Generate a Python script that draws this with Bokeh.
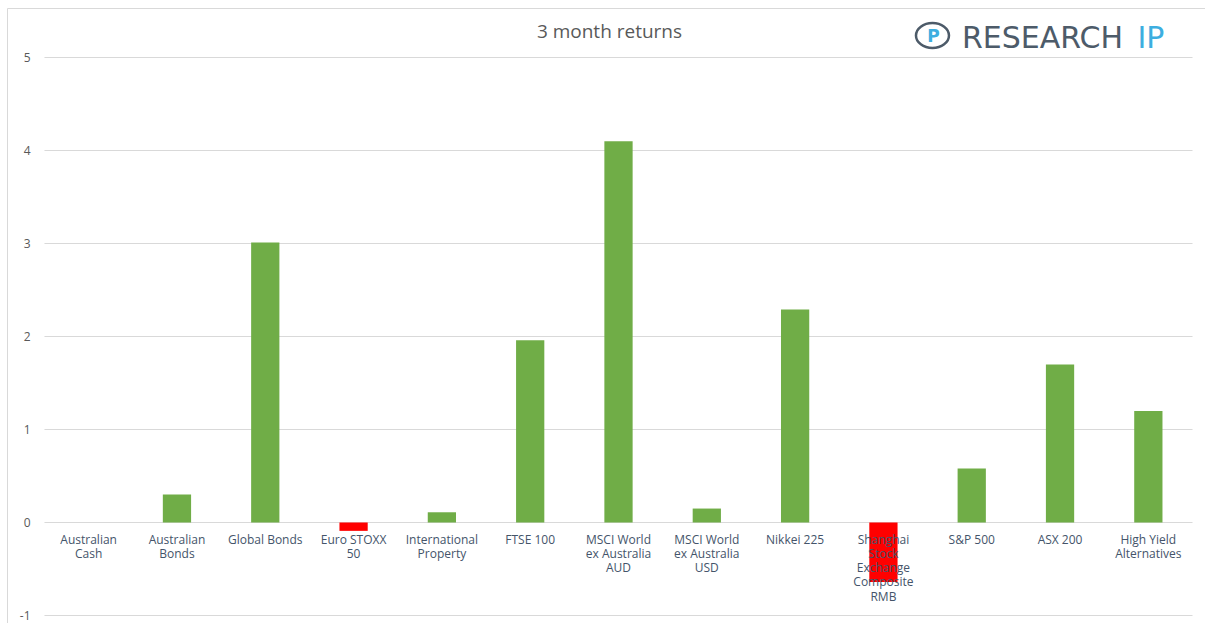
from bokeh.plotting import figure
from bokeh.models import Range1d, ColumnDataSource
from bokeh.core.properties import value
from bokeh.embed import file_html
from bokeh.resources import INLINE

# ---- data ----
categories = [
    "Australian\nCash", "Australian\nBonds", "Global Bonds", "Euro STOXX\n50",
    "International\nProperty", "FTSE 100", "MSCI World\nex Australia\nAUD",
    "MSCI World\nex Australia\nUSD", "Nikkei 225",
    "Shanghai\nStock\nExchange\nComposite\nRMB", "S&P 500", "ASX 200",
    "High Yield\nAlternatives",
]
returns = [0.0, 0.30, 3.01, -0.09, 0.11, 1.96, 4.10, 0.15, 2.29, -0.64, 0.58, 1.70, 1.20]
y_ticks = [-1, 0, 1, 2, 3, 4, 5]
title_text = "3 month returns"

GREEN = "#70AD47"
RED = "#FF0000"
GRID = "#D9D9D9"

# pixel mapping helpers (layout only)
W, H = 1205, 623
px_per_cat = 88.31
px_per_unit = 93.0
x0 = -0.5 - 44 / px_per_cat
x1 = 12.5 + 13 / px_per_cat
y_top = 5 + 57 / px_per_unit
y_bot = -1 - 8 / px_per_unit

def sx(px):
    return x0 + px / px_per_cat

def sy(py):
    return y_top - py / px_per_unit

p = figure(width=W, height=H, x_range=Range1d(x0, x1), y_range=Range1d(y_bot, y_top),
           x_axis_type=None, y_axis_type=None, toolbar_location=None,
           output_backend="svg", min_border=0, outline_line_color=None,
           background_fill_color="white", border_fill_color="white")

# outer chart border (top and left)
p.line(x=[sx(7), sx(7), sx(W + 5)], y=[sy(H + 5), sy(8), sy(8)], line_color="#D9D9D9", line_width=1)

# gridlines
n = len(categories)
p.segment(x0=[-0.5] * len(y_ticks), y0=y_ticks, x1=[n - 0.5] * len(y_ticks), y1=y_ticks,
          line_color=GRID, line_width=1)

# y tick labels
p.text(x=[sx(30)] * len(y_ticks), y=y_ticks, text=[str(t) for t in y_ticks],
       text_font=value("Open Sans"), text_font_size="12px", text_color="#595959",
       text_align="right", text_baseline="middle")

# bars
xs = list(range(n))
colors = [GREEN if v >= 0 else RED for v in returns]
src = ColumnDataSource(dict(x=xs, top=returns, color=colors, label=categories))
p.vbar(x="x", top="top", bottom=0, width=0.32, fill_color="color", line_color=None, source=src)

# category labels
p.text(x="x", y=sy(530), text="label", source=src,
       text_font=value("Open Sans"), text_font_size="12px", text_color="#44546A",
       text_align="center", text_baseline="top", text_line_height=0.84)

# title
p.text(x=[sx(609)], y=[sy(30)], text=[title_text], text_font=value("Open Sans"),
       text_font_size="19px", text_color="#595959", text_align="center", text_baseline="middle")

# logo
p.ellipse(x=[sx(932)], y=[sy(35)], width=33, height=25, width_units="screen",
          height_units="screen", fill_color=None, line_color="#4D5B69", line_width=2.5)
p.text(x=[sx(933)], y=[sy(35)], text=["P"], text_font=value("DejaVu Sans"),
       text_font_size="17px", text_font_style="bold", text_color="#3DAEE0",
       text_align="center", text_baseline="middle")
p.text(x=[sx(1042)], y=[sy(37)], text=["RESEARCH"], text_font=value("DejaVu Sans"),
       text_font_size="30px", text_color="#4D5B69", text_align="center", text_baseline="middle")
p.text(x=[sx(1137)], y=[sy(37)], text=["IP"], text_font=value("DejaVu Sans"),
       text_font_size="30px", text_color="#3DAEE0", text_align="left", text_baseline="middle")

open("out.html", "w").write(file_html(p, INLINE))
